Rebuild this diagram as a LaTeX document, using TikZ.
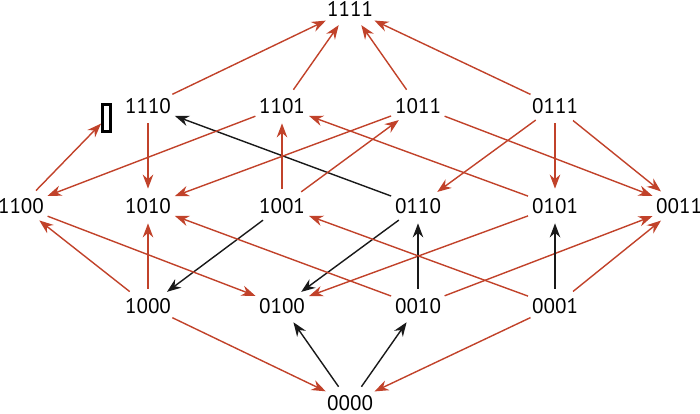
\documentclass[tikz,border=0pt]{standalone}
\usepackage{fontspec}
\setmainfont{PT Sans}
\usetikzlibrary{arrows.meta,shapes.geometric}
\definecolor{hasred}{RGB}{193,66,42}
\definecolor{hasblack}{RGB}{25,25,25}

\begin{document}
\begin{tikzpicture}[x=0.2mm,y=-0.2mm,>=Stealth,
  st/.style={ellipse,inner xsep=0pt,inner ysep=2.5pt,font=\fontsize{12}{14}\selectfont},
  rd/.style={hasred,line width=0.8pt,-{Stealth[length=8pt,width=6pt]}},
  bk/.style={hasblack,line width=0.8pt,-{Stealth[length=8pt,width=6pt]}}]
  \useasboundingbox (0,0) rectangle (700,414);
  % levels of the 4-cube
  \node[st] (n1111) at (350,9) {1111};
  \node[st] (n1110) at (148,106) {1110};
  \node[st] (n1101) at (282,106) {1101};
  \node[st] (n1011) at (418,106) {1011};
  \node[st] (n0111) at (555,106) {0111};
  \node[st] (n1100) at (21,206) {1100};
  \node[st] (n1010) at (148,206) {1010};
  \node[st] (n1001) at (282,206) {1001};
  \node[st] (n0110) at (418,206) {0110};
  \node[st] (n0101) at (555,206) {0101};
  \node[st] (n0011) at (679,206) {0011};
  \node[st] (n1000) at (148,306) {1000};
  \node[st] (n0100) at (282,306) {0100};
  \node[st] (n0010) at (418,306) {0010};
  \node[st] (n0001) at (555,306) {0001};
  \node[st] (n0000) at (350,403) {0000};
  \node[draw,line width=1.7pt,inner sep=0pt,minimum width=4.5pt,minimum height=15.3pt] (glyph) at (106.5,118) {};
  % top
  \draw[rd] (n1110) -- (n1111);
  \draw[rd] (n1101) -- (n1111);
  \draw[rd] (n1011) -- (n1111);
  \draw[rd] (n0111) -- (n1111);
  % level 2 - 3
  \draw[rd] (n1100) -- (glyph);
  \draw[rd] (n1110) -- (n1010);
  \draw[bk] (n0110) -- (n1110);
  \draw[rd] (n1101) -- (n1100);
  \draw[rd] (n1001) -- (n1101);
  \draw[rd] (n0101) -- (n1101);
  \draw[rd] (n1011) -- (n1010);
  \draw[rd] (n1001) -- (n1011);
  \draw[rd] (n1011) -- (n0011);
  \draw[rd] (n0111) -- (n0110);
  \draw[rd] (n0111) -- (n0101);
  \draw[rd] (n0111) -- (n0011);
  % level 1 - 2
  \draw[rd] (n1000) -- (n1100);
  \draw[rd] (n1000) -- (n1010);
  \draw[bk] (n1001) -- (n1000);
  \draw[rd] (n1100) -- (n0100);
  \draw[bk] (n0110) -- (n0100);
  \draw[rd] (n0101) -- (n0100);
  \draw[rd] (n0010) -- (n1010);
  \draw[bk] (n0010) -- (n0110);
  \draw[rd] (n0010) -- (n0011);
  \draw[rd] (n0001) -- (n1001);
  \draw[bk] (n0001) -- (n0101);
  \draw[rd] (n0001) -- (n0011);
  % bottom
  \draw[rd] (n1000) -- (n0000);
  \draw[bk] (n0000) -- (n0100);
  \draw[bk] (n0000) -- (n0010);
  \draw[rd] (n0001) -- (n0000);
\end{tikzpicture}
\end{document}
